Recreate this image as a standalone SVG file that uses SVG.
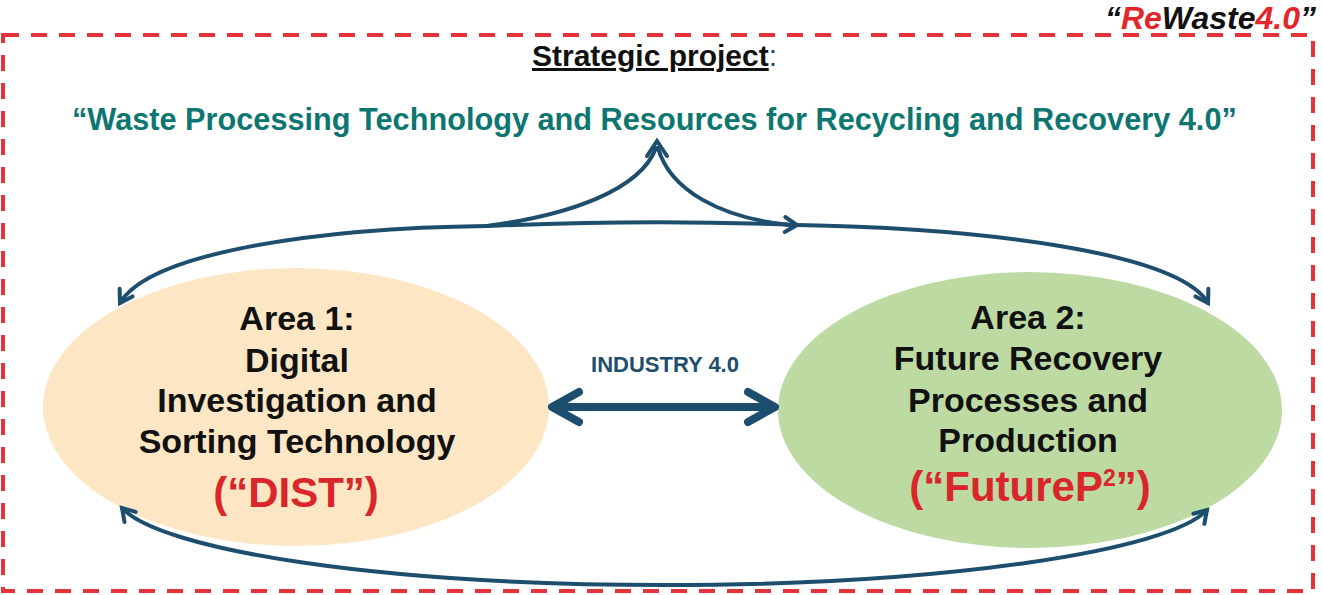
<svg xmlns="http://www.w3.org/2000/svg" width="1323" height="595" viewBox="0 0 1323 595">
  <style>
    .conn { fill: none; stroke: #1d4e6e; stroke-width: 4; stroke-linecap: round; stroke-linejoin: round; }
    .head { fill: none; stroke: #1d4e6e; stroke-width: 4; stroke-linecap: round; stroke-linejoin: miter; }
    .big { fill: none; stroke: #1d4e6e; stroke-width: 8; stroke-linecap: round; stroke-linejoin: round; }
    .area { font-family: "Liberation Sans", Arial, sans-serif; font-weight: bold; font-size: 34px; fill: #111; text-anchor: middle; }
    .abbr { font-family: "Liberation Sans", Arial, sans-serif; font-weight: bold; font-size: 42px; fill: #d9262a; text-anchor: middle; }
  </style>
  <defs>
    <marker id="chev" markerUnits="userSpaceOnUse" viewBox="0 0 20 20" refX="16" refY="10" markerWidth="20" markerHeight="20" orient="auto-start-reverse" overflow="visible">
      <path d="M4,2.5 L16,10 L4,17.5" fill="none" stroke="#1d4e6e" stroke-width="4" stroke-linecap="round" stroke-linejoin="miter"/>
    </marker>
  </defs>

  <rect id="frame" x="3" y="35" width="1310" height="556" fill="none" stroke="#e3343a" stroke-width="4" stroke-dasharray="16 12"/>

  <text id="rewaste" x="1316" y="29" text-anchor="end" font-family="Liberation Sans, Arial, sans-serif" font-weight="bold" font-style="italic" font-size="32" fill="#111">“<tspan fill="#e3262b">Re</tspan>Waste<tspan fill="#e3262b">4.0</tspan>”</text>

  <g id="header">
    <text x="532" y="66" font-family="Liberation Sans, Arial, sans-serif" font-size="30" fill="#111"><tspan font-weight="bold" text-decoration="underline">Strategic project</tspan><tspan fill="#1d4e6e">:</tspan></text>
    <text x="72" y="130" font-family="Liberation Sans, Arial, sans-serif" font-weight="bold" font-size="30.7" fill="#0d7670">“Waste Processing Technology and Resources for Recycling and Recovery 4.0”</text>
  </g>

  <g id="area1">
    <ellipse cx="296" cy="407" rx="253" ry="139" fill="#fce6c3"/>
    <text class="area" x="297" y="330">Area 1:</text>
    <text class="area" x="297" y="372">Digital</text>
    <text class="area" x="297" y="412">Investigation and</text>
    <text class="area" x="297" y="453">Sorting Technology</text>
    <text class="abbr" x="296" y="507">(“DIST”)</text>
  </g>

  <g id="area2">
    <ellipse cx="1030" cy="410" rx="252" ry="138" fill="#bedaa3"/>
    <text class="area" x="1028" y="329">Area 2:</text>
    <text class="area" x="1028" y="370">Future Recovery</text>
    <text class="area" x="1028" y="412">Processes and</text>
    <text class="area" x="1028" y="452">Production</text>
    <text class="abbr" x="1030" y="501" font-size="43">(“FutureP<tspan font-size="23" dy="-15">2</tspan><tspan dy="15">”)</tspan></text>
  </g>

  <g id="industry">
    <text x="665" y="372" text-anchor="middle" font-family="Liberation Sans, Arial, sans-serif" font-weight="bold" font-size="22" fill="#1d4e6e">INDUSTRY 4.0</text>
  </g>

  <g id="connectors">
    <!-- double arrow between areas -->
    <line class="big" x1="554" y1="407" x2="773" y2="407"/>
    <path class="big" d="M579,392 L552,407 L579,422"/>
    <path class="big" d="M748,392 L775,407 L748,422"/>

    <!-- top arc -->
    <path class="conn" d="M487,226 C320,228 150,252 120,303" marker-end="url(#chev)"/>
    <path class="conn" d="M487,226 Q650,219 797,225" marker-end="url(#chev)"/>
    <path class="conn" d="M797,225 C980,228 1178,252 1208,303" marker-end="url(#chev)"/>

    <!-- branch up to project -->
    <path class="conn" d="M487,226 C570,215 640,190 656,148"/>
    <path class="conn" d="M658,148 C670,190 720,218 790,225"/>
    <path class="head" d="M647,156 L657,141 L667,156"/>

    <!-- bottom arc -->
    <path class="conn" d="M122,508 C160,550 380,585 665,585 C950,585 1170,550 1207,510" marker-start="url(#chev)" marker-end="url(#chev)"/>
  </g>
</svg>
